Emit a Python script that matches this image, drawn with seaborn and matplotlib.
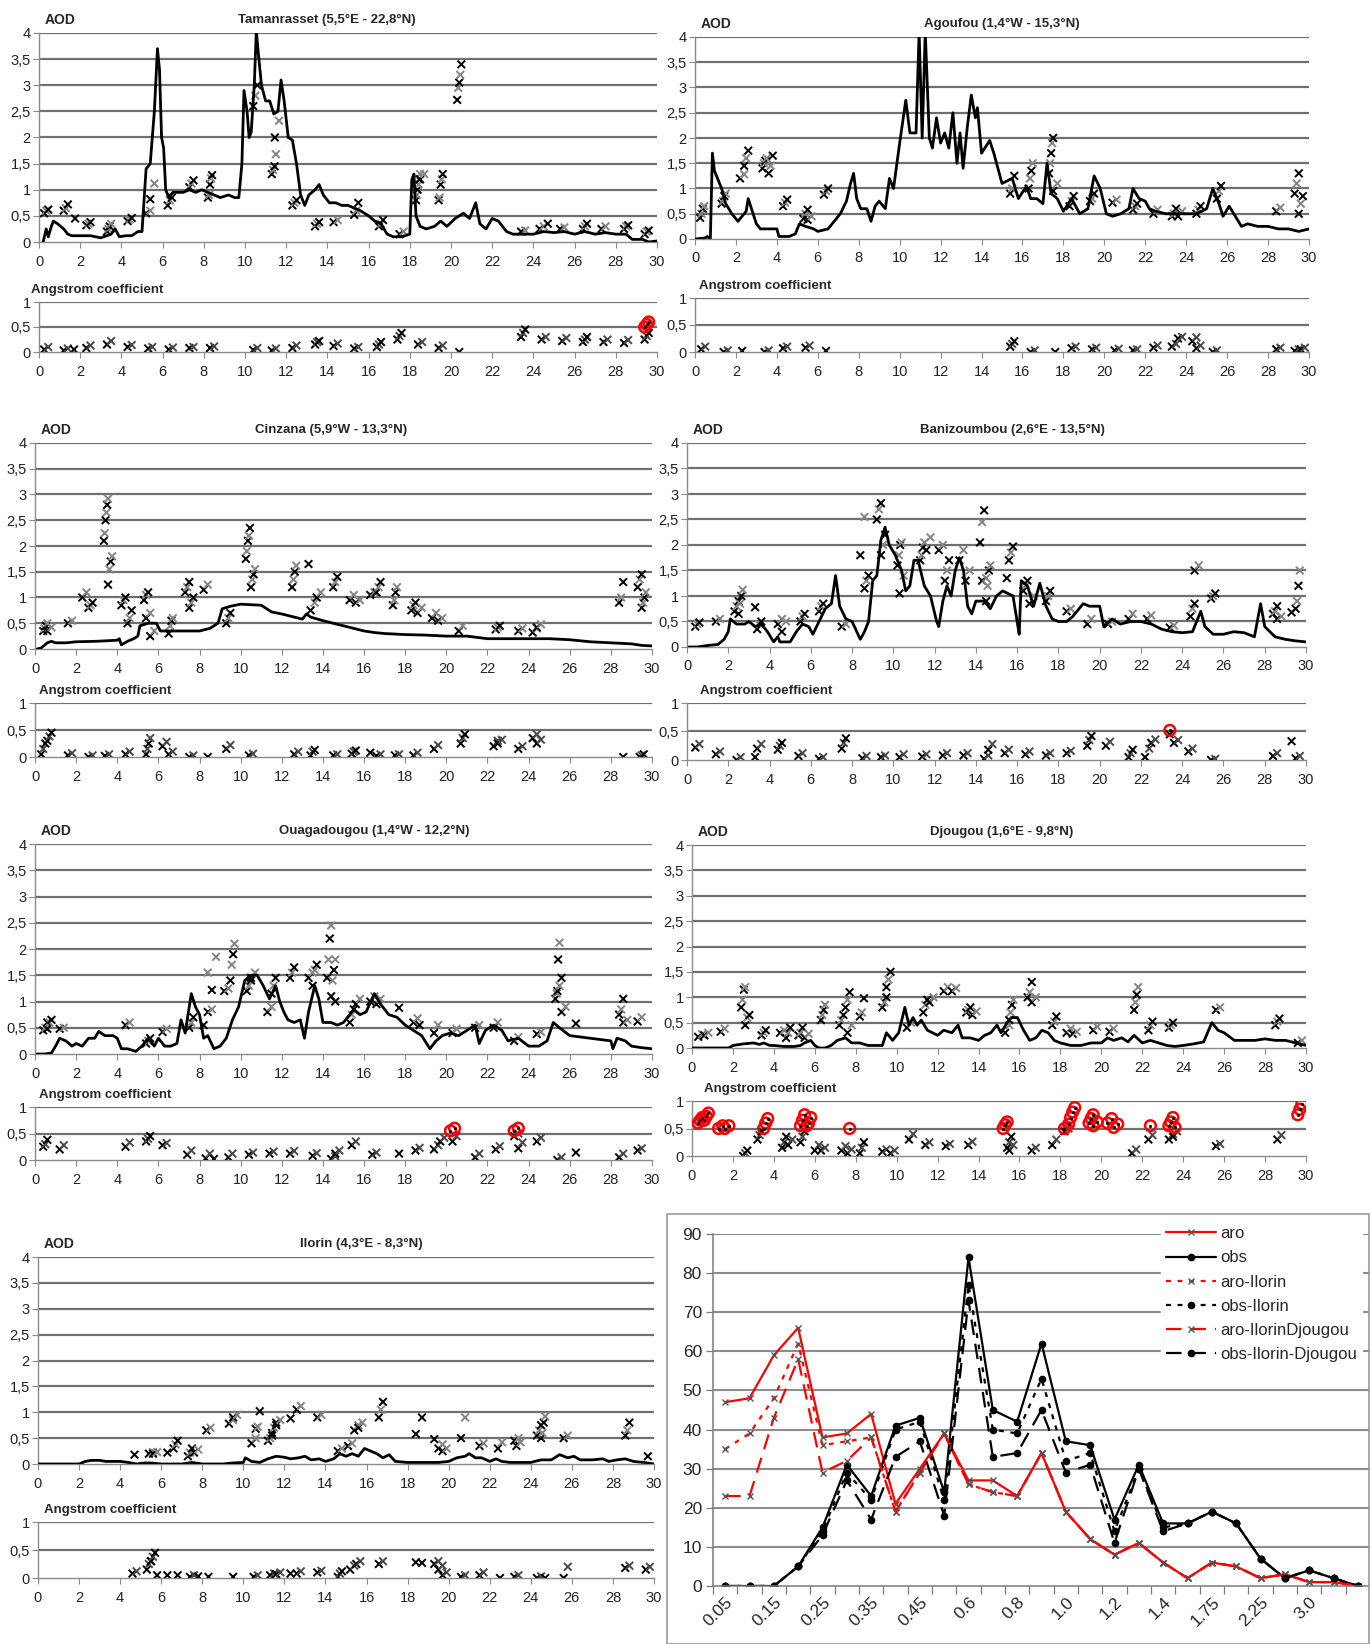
import numpy as np
import matplotlib
matplotlib.use('Agg')
import matplotlib.pyplot as plt
import seaborn as sns
from matplotlib.patches import Rectangle
from matplotlib.ticker import FuncFormatter, MultipleLocator, FixedLocator

sns.set_theme(style='white')
plt.rcParams['font.family'] = ['Liberation Sans Narrow', 'Liberation Sans', 'DejaVu Sans']

# ---------------- station data (day, AOD) ----------------
# model AOD line, observed AOD clusters (day, [values]), Angstrom clusters

tam_line = [(0.2,0.0),(0.35,0.25),(0.45,0.1),(0.6,0.3),(0.7,0.4),(0.9,0.35),(1.2,0.25),(1.4,0.15),(1.6,0.12),(2.0,0.12),
            (2.5,0.12),(3.0,0.08),(3.5,0.15),(3.7,0.25),(3.9,0.1),(4.2,0.12),(4.5,0.12),(4.8,0.2),(5.0,0.2),(5.1,0.8),
            (5.2,1.4),(5.4,1.5),(5.6,2.5),(5.75,3.7),(5.85,3.3),(5.95,2.0),(6.05,1.8),(6.15,1.0),(6.3,0.85),(6.5,0.95),
            (7.0,0.95),(7.3,1.0),(7.6,0.95),(7.9,1.0),(8.2,0.95),(8.5,0.9),(8.8,0.85),(9.2,0.9),(9.5,0.85),(9.7,0.85),
            (9.85,1.5),(9.95,2.9),(10.1,2.5),(10.2,2.0),(10.3,2.1),(10.45,3.0),(10.55,4.05),(10.65,3.6),(10.8,3.0),(11.0,2.7),
            (11.2,2.7),(11.4,2.45),(11.6,2.5),(11.75,3.1),(11.9,2.7),(12.1,2.0),(12.3,1.95),(12.5,1.5),(12.7,0.9),(12.9,0.7),
            (13.1,0.9),(13.4,1.0),(13.6,1.1),(13.8,0.9),(14.1,0.75),(14.4,0.75),(14.7,0.7),(15.0,0.7),(15.3,0.65),(15.6,0.6),
            (16.0,0.5),(16.3,0.4),(16.6,0.35),(16.9,0.15),(17.2,0.1),(17.6,0.1),(18.0,0.15),(18.1,1.2),(18.2,1.3),(18.3,0.5),
            (18.5,0.3),(18.8,0.25),(19.2,0.3),(19.5,0.4),(19.8,0.3),(20.2,0.45),(20.6,0.55),(20.9,0.45),(21.2,0.75),(21.4,0.35),
            (21.7,0.25),(22.0,0.45),(22.3,0.4),(22.7,0.2),(23.0,0.15),(23.5,0.15),(24.0,0.15),(24.5,0.2),(25.0,0.18),(25.5,0.2),
            (26.0,0.15),(26.5,0.2),(27.0,0.15),(27.5,0.18),(28.0,0.15),(28.5,0.15),(28.8,0.05),(29.3,0.05),(29.6,0.0),(30.0,0.02)]
tam_obs = [(0.35,[0.55,0.6,0.62]),(1.3,[0.6,0.65,0.72]),(1.75,[0.45]),(2.4,[0.32,0.35,0.38]),(3.4,[0.2,0.25,0.3,0.35]),
           (4.4,[0.4,0.43,0.46]),(5.3,[0.55,0.6]),(5.5,[0.82,1.12]),(6.35,[0.7,0.8,0.85]),(7.4,[1.05,1.12,1.18]),
           (8.3,[0.85,0.9,1.1,1.22,1.28]),(10.5,[2.6,2.8,3.0]),(11.4,[1.3,1.38,1.45,1.68]),(11.55,[2.0,2.32]),
           (12.4,[0.7,0.75,0.8]),(13.5,[0.3,0.35,0.38]),(14.4,[0.38,0.42]),(15.4,[0.52,0.6,0.75]),(16.6,[0.3,0.35,0.42]),
           (17.6,[0.15,0.2]),(18.4,[0.8,0.9,1.0,1.1,1.2,1.3]),(18.6,[1.2,1.3]),(19.5,[0.8,0.85,1.1,1.2,1.3]),
           (20.4,[2.72,2.95,3.05,3.2,3.4]),(23.5,[0.2,0.22]),(24.4,[0.25,0.3]),(24.7,[0.35]),(25.4,[0.25,0.28]),
           (26.5,[0.25,0.3,0.35]),(27.4,[0.25,0.3]),(28.5,[0.25,0.3,0.32]),(29.5,[0.15,0.2,0.22])]
tam_ang = [(0.35,[0.05,0.1]),(1.3,[0.03,0.07]),(1.7,[0.05]),(2.4,[0.08,0.13]),(3.4,[0.15,0.22]),(4.4,[0.1,0.14]),
           (5.4,[0.07,0.1]),(6.4,[0.05,0.09]),(7.4,[0.08,0.1]),(8.4,[0.08,0.11]),(10.5,[0.04,0.08]),(11.4,[0.03,0.07]),
           (12.4,[0.08,0.13]),(13.5,[0.15,0.2,0.22]),(14.4,[0.12,0.17]),(15.4,[0.07,0.1]),(16.5,[0.1,0.15,0.2]),
           (17.5,[0.25,0.32,0.38]),(18.5,[0.15,0.2]),(19.5,[0.08,0.13]),(20.4,[0.0]),(23.5,[0.3,0.38,0.45]),
           (24.5,[0.25,0.3]),(25.5,[0.22,0.28]),(26.5,[0.2,0.25,0.3]),(27.5,[0.2,0.25]),(28.5,[0.18,0.24]),
           (29.5,[0.25,0.32,0.38])]
tam_red = [(29.5,[0.5,0.55,0.6])]

ago_line = [(0.0,0.0),(0.5,0.02),(0.6,0.05),(0.75,0.0),(0.85,1.7),(0.95,1.35),(1.1,1.2),(1.3,1.0),(1.5,0.7),(1.8,0.5),
            (2.1,0.35),(2.3,0.45),(2.5,0.55),(2.6,0.8),(2.8,0.55),(3.0,0.3),(3.2,0.2),(3.6,0.2),(4.0,0.2),(4.1,0.05),
            (4.6,0.05),(4.9,0.1),(5.1,0.3),(5.4,0.25),(5.8,0.2),(6.0,0.15),(6.5,0.2),(6.8,0.35),(7.1,0.5),(7.4,0.75),
            (7.6,1.1),(7.75,1.3),(7.9,0.8),(8.1,0.6),(8.4,0.6),(8.6,0.35),(8.8,0.65),(9.0,0.75),(9.3,0.6),(9.5,1.2),
            (9.7,1.0),(10.0,1.9),(10.3,2.75),(10.5,2.1),(10.8,2.1),(10.95,4.1),(11.1,2.0),(11.25,4.1),(11.45,2.0),(11.6,1.8),
            (11.8,2.4),(12.0,1.9),(12.2,2.1),(12.4,1.8),(12.6,2.5),(12.8,1.5),(12.95,2.1),(13.1,1.4),(13.3,2.2),(13.5,2.85),
            (13.7,2.4),(13.8,2.6),(14.0,1.7),(14.4,1.95),(14.6,1.7),(15.0,1.1),(15.5,1.2),(15.8,0.8),(16.2,1.05),(16.4,0.8),
            (16.7,0.8),(17.0,0.7),(17.2,1.5),(17.4,0.9),(17.7,0.8),(18.0,0.55),(18.4,0.8),(18.8,0.5),(19.2,0.6),(19.5,1.25),
            (19.8,1.0),(20.1,0.5),(20.4,0.45),(20.8,0.5),(21.2,0.6),(21.4,1.0),(21.7,0.8),(22.0,0.75),(22.2,0.6),(22.5,0.55),
            (23.0,0.5),(23.5,0.5),(24.0,0.5),(24.5,0.5),(25.0,0.6),(25.3,1.0),(25.6,0.7),(25.8,0.45),(26.1,0.65),(26.4,0.45),
            (26.7,0.25),(27.0,0.3),(27.5,0.25),(28.0,0.25),(28.5,0.2),(29.0,0.2),(29.5,0.15),(30.0,0.2)]
ago_obs = [(0.35,[0.42,0.5,0.6,0.65]),(1.4,[0.7,0.75,0.85,0.9]),(2.3,[1.2,1.28]),(2.5,[1.45,1.6,1.75]),
           (3.4,[1.4,1.5,1.55,1.6]),(3.7,[1.3,1.45,1.65]),(4.4,[0.65,0.72,0.78]),(5.4,[0.4,0.5,0.58]),(5.6,[0.38,0.45]),
           (6.4,[0.88,0.95,1.0]),(15.5,[0.9,1.0,1.25]),(16.4,[1.0,1.2,1.35,1.5]),(17.4,[1.3,1.5,1.7,1.9,2.0]),
           (17.6,[0.95,1.1]),(18.4,[0.65,0.75,0.85]),(19.4,[0.75,0.8,0.9]),(20.5,[0.72,0.78]),(21.5,[0.58,0.65,0.7]),
           (22.5,[0.5,0.58]),(23.4,[0.45,0.5,0.6]),(23.7,[0.45,0.55]),(24.6,[0.5,0.58,0.65]),(25.6,[0.8,0.95,1.05]),
           (28.5,[0.55,0.62]),(29.4,[0.9,1.1,1.3]),(29.6,[0.5,0.7,0.85])]
ago_ang = [(0.4,[0.05,0.1]),(1.5,[0.0,0.03]),(2.3,[0.02]),(3.5,[0.0,0.03]),(4.4,[0.07,0.1]),(5.5,[0.08,0.12]),
           (6.4,[0.02]),(15.5,[0.1,0.15,0.2]),(16.5,[0.0,0.03]),(17.6,[0.0]),(18.5,[0.07,0.1]),(19.5,[0.05,0.08]),
           (20.6,[0.03,0.06]),(21.5,[0.03,0.05]),(22.5,[0.08,0.12]),(23.4,[0.1,0.15]),(23.7,[0.25,0.28]),
           (24.4,[0.2,0.27]),(24.6,[0.07,0.12]),(25.4,[0.0,0.03]),(28.5,[0.05,0.08]),(29.4,[0.02,0.05]),(29.7,[0.05,0.08])]
ago_red = []

cin_line = [(0.1,0.0),(0.3,0.02),(0.6,0.12),(0.8,0.15),(1.0,0.12),(1.5,0.12),(2.0,0.14),(3.0,0.15),(4.0,0.17),(4.1,0.2),
            (4.2,0.08),(4.5,0.15),(4.8,0.2),(5.0,0.25),(5.1,0.45),(5.5,0.5),(5.9,0.5),(6.1,0.35),(6.5,0.35),(7.0,0.35),
            (8.0,0.35),(8.5,0.4),(8.9,0.5),(9.1,0.78),(9.5,0.83),(10.0,0.87),(10.5,0.86),(11.0,0.85),(11.5,0.72),(12.0,0.68),
            (12.5,0.63),(13.0,0.58),(13.2,0.68),(13.4,0.62),(14.0,0.55),(14.5,0.5),(15.0,0.45),(15.5,0.4),(16.0,0.35),
            (16.5,0.32),(17.0,0.3),(18.0,0.28),(19.0,0.27),(20.0,0.25),(21.0,0.25),(22.0,0.2),(23.0,0.2),(24.0,0.2),
            (25.0,0.2),(26.0,0.18),(27.0,0.14),(28.0,0.12),(29.0,0.1),(29.5,0.07),(30.0,0.06)]
cin_obs = [(0.5,[0.35,0.4,0.45,0.5]),(0.7,[0.35,0.42]),(1.7,[0.5,0.55]),(2.4,[1.0,1.1]),(2.7,[0.8,0.85,0.9]),
           (3.45,[2.1,2.25,2.5,2.65,2.8,2.92]),(3.65,[1.25,1.55,1.7,1.8]),(4.3,[0.85,0.95,1.0]),(4.6,[0.5,0.6,0.75]),
           (5.4,[0.95,1.05,1.1]),(5.5,[0.6,0.7]),(5.7,[0.25,0.35]),(6.6,[0.3,0.45,0.55,0.6]),(7.4,[1.1,1.2,1.3]),
           (7.6,[0.8,0.9,1.0]),(8.3,[1.15,1.25]),(9.4,[0.5,0.6,0.7]),(10.35,[1.75,1.9,2.1,2.2,2.35]),
           (10.6,[1.2,1.35,1.45,1.55]),(12.6,[1.2,1.35,1.5,1.62]),(13.3,[1.65]),(13.5,[0.75,0.9]),(13.8,[1.0,1.1]),
           (14.6,[1.2,1.3,1.4]),(15.4,[0.95,1.05]),(15.7,[0.9,0.95]),(16.4,[1.05,1.1]),(16.7,[1.1,1.2,1.3]),
           (17.5,[0.85,0.95,1.1,1.2]),(18.4,[0.75,0.85,0.9]),(18.7,[0.7,0.8]),(19.4,[0.6,0.7]),(19.7,[0.55,0.6]),
           (20.7,[0.35,0.45]),(22.5,[0.38,0.42,0.45]),(23.6,[0.35,0.4]),(24.3,[0.32,0.4]),(24.5,[0.42,0.48]),
           (28.5,[0.9,1.0,1.3]),(29.4,[1.2,1.35,1.45]),(29.6,[0.8,0.9,1.0,1.1])]
cin_ang = [(0.4,[0.05,0.15,0.25]),(0.7,[0.3,0.38,0.45]),(1.7,[0.03,0.07]),(2.7,[0.0,0.03]),(3.5,[0.02,0.05]),
           (4.5,[0.05,0.1]),(5.5,[0.05,0.15,0.25,0.35]),(6.3,[0.2,0.28]),(6.6,[0.05,0.1]),(7.6,[0.0,0.03]),(8.4,[0.0]),
           (9.4,[0.15,0.22]),(10.5,[0.03,0.06]),(12.7,[0.05,0.1]),(13.5,[0.03,0.1,0.13]),(14.6,[0.03,0.05]),
           (15.5,[0.06,0.1,0.12]),(16.3,[0.08]),(16.7,[0.02,0.05]),(17.6,[0.03,0.05]),(18.5,[0.03,0.08]),
           (19.5,[0.15,0.22]),(20.8,[0.25,0.35,0.42]),(22.4,[0.2,0.3]),(22.6,[0.25,0.32]),(23.6,[0.15,0.2]),
           (24.3,[0.35,0.42]),(24.5,[0.25,0.32]),(28.6,[0.0]),(29.5,[0.0,0.03,0.05])]
cin_red = []

ban_line = [(0.1,0.0),(0.5,0.0),(1.0,0.03),(1.5,0.05),(1.8,0.15),(2.0,0.3),(2.1,0.55),(2.4,0.45),(2.8,0.45),(3.0,0.5),
            (3.3,0.4),(3.6,0.45),(3.9,0.3),(4.2,0.1),(4.4,0.2),(4.5,0.1),(5.0,0.1),(5.3,0.3),(5.6,0.45),(5.9,0.4),
            (6.1,0.25),(6.4,0.5),(6.7,0.75),(7.0,0.85),(7.2,1.4),(7.4,0.8),(7.7,0.55),(8.0,0.5),(8.4,0.15),(8.6,0.3),
            (8.8,0.5),(9.0,1.3),(9.2,1.4),(9.4,2.1),(9.6,2.35),(9.8,2.0),(10.1,1.8),(10.4,1.5),(10.6,1.1),(10.8,1.2),
            (11.0,1.7),(11.2,1.7),(11.5,1.2),(11.8,1.0),(12.1,0.5),(12.2,0.4),(12.4,0.9),(12.6,1.2),(12.8,1.0),(13.0,1.5),
            (13.2,1.75),(13.4,1.5),(13.6,0.8),(13.8,0.65),(14.0,0.9),(14.4,0.9),(14.7,0.75),(15.0,1.0),(15.3,1.1),(15.8,1.0),
            (16.0,0.5),(16.1,0.25),(16.2,1.3),(16.5,1.2),(16.8,0.8),(17.1,1.25),(17.4,0.8),(17.7,0.55),(18.0,0.5),(18.4,0.5),
            (18.7,0.6),(19.0,0.75),(19.2,0.85),(19.5,0.8),(20.0,0.8),(20.2,0.4),(20.6,0.55),(21.0,0.45),(21.5,0.5),(22.0,0.5),
            (22.5,0.45),(23.0,0.35),(23.5,0.3),(24.0,0.28),(24.5,0.3),(24.9,0.7),(25.1,0.4),(25.5,0.25),(26.0,0.25),
            (26.5,0.3),(27.0,0.28),(27.5,0.2),(27.8,0.85),(28.0,0.4),(28.5,0.2),(29.0,0.15),(29.5,0.12),(30.0,0.1)]
ban_obs = [(0.5,[0.4,0.45,0.48]),(1.5,[0.5,0.55]),(2.4,[0.7,0.8,0.9]),(2.6,[0.65,0.85,1.0,1.12]),(3.3,[0.78]),
           (3.5,[0.35,0.45,0.5]),(4.5,[0.45,0.55]),(4.7,[0.3,0.5]),(5.6,[0.5,0.6,0.65]),(6.5,[0.7,0.8,0.85]),
           (7.6,[0.4,0.45]),(8.5,[1.8,2.55]),(8.7,[1.15,1.3,1.4]),(9.3,[2.5,2.7,2.82]),(9.5,[1.8,2.0,2.2]),
           (10.3,[1.6,1.8,2.0,2.05]),(10.4,[1.05,1.4]),(11.4,[1.7,1.8,1.95,2.05]),(11.7,[1.9,2.15]),(12.3,[1.9,2.0]),
           (12.6,[1.3,1.5,1.7]),(13.3,[1.7,1.9]),(13.6,[1.3,1.5]),(14.3,[2.05,2.45,2.68]),(14.4,[1.3,1.35]),
           (14.6,[0.9,1.2,1.5,1.6]),(15.5,[1.35]),(15.7,[1.7,1.85,1.97]),(16.4,[1.1,1.2,1.3]),(16.7,[0.85,1.0]),
           (17.5,[0.9,1.0,1.1]),(18.5,[0.7,0.75]),(19.5,[0.45,0.55]),(20.5,[0.45,0.5]),(21.5,[0.55,0.65]),
           (22.4,[0.55,0.62]),(23.5,[0.38,0.42]),(24.5,[0.6,0.75,0.85]),(24.7,[1.5,1.6]),(25.5,[0.95,1.0,1.05]),
           (28.5,[0.65,0.7,0.8]),(28.7,[0.55,0.6]),(29.3,[0.68]),(29.6,[0.75,0.9,1.2,1.5])]
ban_ang = [(0.5,[0.22,0.28]),(1.5,[0.1,0.15]),(2.5,[0.0,0.05]),(3.3,[0.05]),(3.5,[0.2,0.28]),(4.5,[0.18,0.25,0.3]),
           (5.5,[0.07,0.12]),(6.5,[0.02,0.05]),(7.6,[0.2,0.3,0.38]),(8.6,[0.03,0.07]),(9.5,[0.05,0.08]),(10.4,[0.05,0.1]),
           (11.5,[0.06,0.1]),(12.5,[0.08,0.12]),(13.5,[0.08,0.12]),(14.5,[0.02,0.08]),(14.7,[0.18,0.28]),
           (15.5,[0.12,0.18]),(16.5,[0.1,0.15]),(17.5,[0.08,0.12]),(18.5,[0.12,0.16]),(19.5,[0.25,0.35,0.42]),
           (20.4,[0.25,0.32]),(21.5,[0.05,0.12,0.18]),(22.3,[0.05,0.2]),(22.6,[0.3,0.36]),(23.4,[0.45]),(23.7,[0.3,0.35]),
           (24.4,[0.15,0.2]),(25.5,[0.0,0.02]),(28.5,[0.07,0.12]),(29.3,[0.33]),(29.6,[0.03,0.07])]
ban_red = [(23.4,[0.52])]

oua_line = [(0.1,0.0),(0.5,0.0),(0.8,0.02),(1.0,0.15),(1.2,0.3),(1.5,0.25),(1.8,0.15),(2.0,0.2),(2.3,0.15),(2.6,0.3),
            (2.9,0.3),(3.1,0.43),(3.4,0.35),(3.8,0.35),(4.0,0.3),(4.2,0.1),(4.5,0.1),(4.9,0.05),(5.2,0.15),(5.5,0.3),
            (5.8,0.15),(6.0,0.3),(6.3,0.15),(6.6,0.15),(6.9,0.2),(7.1,0.65),(7.3,0.4),(7.6,1.15),(7.8,0.9),(8.0,0.75),
            (8.2,0.3),(8.4,0.35),(8.7,0.1),(9.0,0.15),(9.3,0.3),(9.6,0.65),(9.9,0.9),(10.2,1.4),(10.5,1.5),(10.8,1.5),
            (11.1,1.3),(11.4,1.05),(11.7,1.3),(11.9,1.0),(12.1,0.8),(12.3,0.65),(12.6,0.6),(12.9,0.65),(13.1,0.3),(13.3,0.8),
            (13.6,1.3),(13.8,1.05),(14.0,0.6),(14.4,0.6),(14.7,0.55),(15.0,0.6),(15.3,0.75),(15.5,0.85),(15.8,0.75),
            (16.1,0.8),(16.5,1.15),(16.8,0.95),(17.2,0.75),(17.6,0.7),(18.0,0.55),(18.4,0.45),(18.8,0.35),(19.2,0.1),
            (19.5,0.25),(19.8,0.35),(20.2,0.4),(20.6,0.35),(21.0,0.45),(21.4,0.55),(21.6,0.2),(21.9,0.45),(22.3,0.55),
            (22.7,0.45),(23.0,0.25),(23.5,0.3),(24.0,0.15),(24.5,0.15),(24.9,0.25),(25.2,0.6),(25.5,0.5),(26.0,0.35),
            (27.0,0.3),(28.0,0.25),(28.1,0.1),(28.3,0.3),(28.7,0.25),(29.0,0.15),(29.5,0.12),(30.0,0.1)]
oua_obs = [(0.5,[0.45,0.5,0.6]),(0.7,[0.48,0.6,0.65]),(1.3,[0.48,0.5]),(4.5,[0.55,0.6]),(5.5,[0.2,0.25,0.3]),
           (6.3,[0.42,0.48]),(7.6,[0.5,0.6,0.7]),(8.3,[0.55,1.55]),(8.5,[0.8,0.85]),(8.7,[1.22,1.85]),(9.3,[1.2,1.25]),
           (9.6,[1.4,1.7,1.9,2.1]),(10.4,[1.2,1.3,1.4]),(10.6,[1.45,1.55]),(11.4,[0.8,0.9]),(11.6,[1.15,1.3,1.45]),
           (12.5,[1.45,1.55,1.65]),(13.4,[1.45,1.55]),(13.6,[1.3,1.6,1.7]),(14.3,[1.45,1.8,2.2,2.45]),
           (14.5,[1.1,1.4,1.6,1.8]),(14.6,[1.0]),(15.4,[0.6,0.75,0.85]),(15.7,[0.95,1.05]),(16.4,[1.0,1.1]),
           (16.7,[0.95,1.05]),(17.7,[0.88]),(18.5,[0.6,0.68]),(18.7,[0.55]),(19.5,[0.4,0.55]),(20.4,[0.4,0.48]),
           (21.5,[0.5,0.55]),(22.4,[0.5,0.6]),(23.4,[0.25,0.32]),(24.5,[0.38,0.42]),(25.4,[1.05,1.15,1.8,2.12]),
           (25.5,[1.2,1.3,1.45]),(25.7,[0.8,0.9]),(26.3,[0.58]),(28.5,[0.75,0.85,1.05]),(28.7,[0.6,0.65]),(29.4,[0.62,0.7])]
oua_ang = [(0.5,[0.25,0.3,0.38]),(1.3,[0.2,0.28]),(4.5,[0.25,0.33]),(5.5,[0.35,0.4,0.45]),(6.3,[0.28,0.32]),
           (7.5,[0.1,0.18]),(8.4,[0.03,0.12]),(8.7,[0.02]),(9.5,[0.05,0.12]),(10.5,[0.1,0.14]),(11.5,[0.12,0.16]),
           (12.5,[0.12,0.17]),(13.6,[0.08,0.13]),(14.5,[0.02,0.07]),(14.7,[0.12,0.18]),(15.5,[0.28,0.35]),
           (16.5,[0.1,0.14]),(17.7,[0.12]),(18.6,[0.18,0.23]),(19.5,[0.2,0.28]),(19.8,[0.35,0.42]),(20.4,[0.35,0.45]),
           (21.5,[0.05,0.12]),(22.5,[0.2,0.26]),(23.4,[0.45,0.5]),(23.6,[0.22,0.33]),(24.5,[0.35,0.42]),
           (25.5,[0.0,0.05]),(26.3,[0.14]),(28.5,[0.05,0.12]),(29.4,[0.18,0.22])]
oua_red = [(20.3,[0.55,0.6]),(23.4,[0.55,0.6])]

djo_line = [(0.0,0.0),(1.0,0.0),(1.8,0.0),(2.0,0.05),(2.5,0.08),(3.0,0.1),(3.3,0.07),(3.5,0.1),(3.8,0.05),(4.0,0.05),
            (4.5,0.03),(5.0,0.03),(5.3,0.05),(5.5,0.1),(5.8,0.15),(6.0,0.05),(6.2,0.0),(6.5,0.0),(6.8,0.05),(7.1,0.15),
            (7.5,0.2),(7.8,0.1),(8.2,0.1),(8.6,0.05),(9.0,0.05),(9.3,0.05),(9.5,0.3),(9.8,0.15),(10.1,0.3),(10.4,0.8),
            (10.6,0.45),(10.8,0.6),(11.0,0.45),(11.2,0.55),(11.5,0.35),(12.0,0.25),(12.3,0.35),(12.7,0.3),(13.0,0.45),
            (13.2,0.2),(13.6,0.2),(14.0,0.15),(14.3,0.25),(14.6,0.3),(14.9,0.45),(15.1,0.3),(15.4,0.5),(15.6,0.6),
            (15.9,0.6),(16.2,0.35),(16.5,0.15),(16.8,0.2),(17.1,0.35),(17.4,0.3),(17.7,0.15),(18.0,0.1),(18.5,0.05),
            (19.0,0.05),(19.5,0.1),(20.0,0.1),(20.3,0.2),(20.6,0.15),(21.0,0.2),(21.3,0.12),(21.6,0.25),(22.0,0.1),
            (22.4,0.15),(22.8,0.1),(23.2,0.05),(23.6,0.03),(24.0,0.05),(24.5,0.08),(25.0,0.12),(25.4,0.5),(25.7,0.35),
            (26.0,0.3),(26.5,0.15),(27.0,0.15),(27.5,0.15),(28.0,0.18),(28.5,0.15),(29.0,0.15),(29.5,0.1),(30.0,0.05)]
djo_obs = [(0.4,[0.22,0.27]),(0.7,[0.25,0.3]),(1.5,[0.32,0.38]),(2.5,[0.8,0.95,1.15,1.2]),(2.7,[0.45,0.6,0.65]),
           (3.5,[0.25,0.3,0.35]),(4.4,[0.3,0.35]),(4.7,[0.2,0.3,0.4]),(5.3,[0.25,0.3,0.4]),(5.6,[0.2,0.28]),
           (6.4,[0.55,0.65,0.75,0.85]),(7.3,[0.45,0.55,0.65]),(7.6,[0.8,0.95,1.1]),(7.7,[0.3,0.45]),(8.3,[0.62,0.7,0.98]),
           (9.4,[0.8,0.9,1.0]),(9.6,[1.2,1.35,1.5]),(10.6,[0.4,0.5]),(11.4,[0.7,0.85,0.95]),(11.7,[0.9,1.0]),
           (12.4,[1.12,1.2]),(12.8,[1.12,1.18]),(13.5,[0.7,0.75,0.8]),(13.8,[0.65,0.72]),(15.4,[0.3,0.45]),
           (15.6,[0.55,0.7,0.85,0.95]),(16.5,[1.0,1.1,1.3]),(16.7,[0.9,1.0]),(17.7,[0.45,0.52,0.62]),(18.4,[0.3,0.38]),
           (18.7,[0.28,0.32]),(19.7,[0.35,0.42]),(20.5,[0.32,0.38]),(21.7,[0.75,0.9,1.05,1.2]),(22.4,[0.35,0.45,0.52]),
           (23.4,[0.4,0.45,0.5]),(25.7,[0.75,0.8]),(28.6,[0.45,0.52,0.58]),(29.7,[0.1,0.15])]
djo_ang = [(2.6,[0.0,0.05,0.1]),(3.3,[0.3,0.38,0.45]),(4.5,[0.15,0.25,0.35]),(4.8,[0.2,0.3]),(5.4,[0.25,0.35,0.45]),
           (6.1,[0.1,0.2]),(6.4,[0.1,0.15]),(7.4,[0.1,0.18]),(7.7,[0.05,0.12]),(8.3,[0.05,0.15,0.25]),(9.4,[0.08,0.12]),
           (9.8,[0.05,0.1]),(10.7,[0.3,0.4]),(11.5,[0.2,0.25]),(12.5,[0.18,0.22]),(13.6,[0.2,0.26]),
           (15.5,[0.15,0.25,0.35]),(15.6,[0.1,0.2]),(16.7,[0.1,0.15]),(17.7,[0.2,0.3]),(18.3,[0.45,0.5]),
           (21.6,[0.05,0.12]),(22.4,[0.3,0.38]),(23.4,[0.3,0.4]),(23.6,[0.35,0.45]),(25.7,[0.18,0.22]),(28.7,[0.3,0.38])]
djo_red = [(0.4,[0.6,0.65,0.7]),(0.7,[0.65,0.72,0.78]),(1.4,[0.5,0.55]),(1.7,[0.5,0.55]),(3.6,[0.5,0.6,0.68]),
           (5.4,[0.55,0.65,0.75]),(5.7,[0.55,0.6,0.7]),(7.7,[0.5]),(15.3,[0.5,0.57,0.62]),(18.3,[0.5,0.58]),
           (18.6,[0.7,0.8,0.88]),(19.5,[0.6,0.68,0.75]),(19.7,[0.55,0.62]),(20.4,[0.6,0.68]),(20.7,[0.52,0.58]),
           (22.4,[0.55]),(23.4,[0.55,0.62,0.7]),(23.6,[0.52]),(29.7,[0.75,0.85,0.95])]

ilo_line = [(0.0,0.0),(1.0,0.0),(2.0,0.0),(2.3,0.05),(2.6,0.07),(3.0,0.07),(3.3,0.05),(4.0,0.05),(4.4,0.03),(4.8,0.0),
            (5.2,0.02),(5.5,0.02),(6.0,0.0),(6.5,0.0),(7.0,0.0),(7.5,0.03),(8.0,0.0),(9.0,0.0),(9.5,0.02),(10.0,0.03),
            (10.1,0.12),(10.4,0.05),(10.8,0.03),(11.2,0.1),(11.6,0.15),(12.0,0.13),(12.3,0.1),(12.7,0.12),(13.0,0.15),
            (13.3,0.08),(13.7,0.1),(14.0,0.05),(14.4,0.1),(14.7,0.2),(15.0,0.15),(15.3,0.2),(15.6,0.15),(15.9,0.3),
            (16.2,0.25),(16.5,0.2),(16.8,0.12),(17.1,0.18),(17.4,0.05),(18.0,0.03),(19.0,0.03),(19.5,0.03),(20.0,0.05),
            (20.4,0.12),(20.8,0.15),(21.0,0.2),(21.3,0.12),(21.6,0.12),(22.0,0.05),(22.3,0.1),(22.6,0.05),(23.0,0.03),
            (24.0,0.03),(24.5,0.08),(25.0,0.08),(25.4,0.18),(25.8,0.12),(26.1,0.15),(26.4,0.08),(27.0,0.08),(27.5,0.1),
            (27.8,0.05),(28.2,0.08),(28.6,0.1),(29.0,0.05),(29.5,0.03),(30.0,0.0)]
ilo_obs = [(4.7,[0.18]),(5.5,[0.2,0.23]),(5.7,[0.2,0.23]),(6.3,[0.22]),(6.7,[0.3,0.38,0.45]),(7.4,[0.15,0.22,0.3]),
           (7.7,[0.22,0.28]),(8.3,[0.65,0.7]),(9.4,[0.78,0.85]),(9.6,[0.9,0.95]),(10.5,[0.4,0.5]),(10.7,[0.68,0.72,1.02]),
           (11.3,[0.45,0.5,0.55]),(11.5,[0.6,0.7,0.75]),(11.7,[0.8,0.85]),(12.3,[0.88]),(12.7,[1.05,1.12]),
           (13.7,[0.9,0.95]),(14.7,[0.25,0.3]),(15.2,[0.35,0.4]),(15.5,[0.65,0.75]),(15.7,[0.7,0.8]),
           (16.7,[0.9,1.05,1.2]),(18.4,[0.58]),(18.7,[0.9]),(19.3,[0.48]),(19.6,[0.3,0.38]),(19.8,[0.25,0.3]),
           (20.7,[0.5,0.9]),(21.6,[0.35,0.4]),(22.5,[0.3,0.42]),(23.3,[0.45,0.5]),(23.4,[0.35,0.42]),
           (24.4,[0.55,0.65,0.75]),(24.6,[0.5,0.6,0.8,0.92]),(25.7,[0.5,0.55]),(28.7,[0.55,0.65,0.8]),(29.7,[0.15])]
ilo_ang = [(4.7,[0.08,0.12]),(5.4,[0.15,0.25,0.3]),(5.6,[0.3,0.38,0.45]),(5.8,[0.05]),(6.3,[0.05]),(6.8,[0.05]),
           (7.5,[0.02,0.05]),(7.8,[0.03]),(8.3,[0.02]),(9.5,[0.02]),(10.6,[0.02,0.05]),(11.4,[0.05,0.08]),
           (11.7,[0.07,0.1]),(12.3,[0.08]),(12.7,[0.08,0.12]),(13.7,[0.1,0.13]),(14.7,[0.02,0.08,0.12]),
           (15.3,[0.15,0.22]),(15.6,[0.25,0.3]),(16.7,[0.25,0.3]),(18.4,[0.28]),(18.7,[0.27]),(19.4,[0.25,0.3]),
           (19.6,[0.15,0.22]),(19.8,[0.05,0.1]),(20.7,[0.02,0.05]),(21.6,[0.05,0.1]),(22.5,[0.0]),(23.3,[0.02,0.05]),
           (24.4,[0.0,0.03]),(24.7,[0.0]),(25.7,[0.0,0.2]),(28.7,[0.18,0.22]),(29.7,[0.15,0.2])]
ilo_red = []

# ---------------- histogram data ----------------
bins = ['0.05','0.1','0.15','0.2','0.25','0.3','0.35','0.4','0.45','0.5','0.6','0.7','0.8','0.9',
        '1.0','1.1','1.2','1.3','1.4','1.5','1.75','2.0','2.25','2.5','3.0','3.5','4.0']
aro = [47,48,59,66,38,39,44,21,30,39,27,27,23,34,19,12,8,11,6,2,6,5,2,3,1,1,0]
obs = [0,0,0,5,15,31,23,41,43,24,84,45,42,62,37,36,17,31,16,16,19,16,7,2,4,2,0]
aro_ilorin = [35,39,48,62,36,37,38,19,29,39,26,24,23,34,19,12,8,11,6,2,6,5,2,3,1,1,0]
obs_ilorin = [0,0,0,5,14,29,22,40,42,22,77,40,39,53,32,34,14,30,15,16,19,16,7,2,4,2,0]
aro_ilorin_djougou = [23,23,43,58,29,32,38,19,29,39,26,24,23,34,19,12,8,11,6,2,6,5,2,3,1,1,0]
obs_ilorin_djougou = [0,0,0,5,13,27,17,33,37,18,73,33,34,45,29,31,11,30,14,16,19,16,7,2,4,2,0]

# ---------------- layout (figure pixels: left, top, right, bottom) ----------------
W, H = 1370, 1644
stations = [
    dict(title='Tamanrasset (5,5°E - 22,8°N)', tx=0.466, aod=(39, 33, 657, 242), ang=(39, 302, 657, 352), aoff=-8,
         line=tam_line, obs=tam_obs, angv=tam_ang, red=tam_red),
    dict(title='Agoufou (1,4°W - 15,3°N)', tx=0.50, aod=(695, 37, 1309, 239), ang=(695, 298, 1309, 352), aoff=4,
         line=ago_line, obs=ago_obs, angv=ago_ang, red=ago_red),
    dict(title='Cinzana (5,9°W - 13,3°N)', tx=0.48, aod=(35, 443, 652, 649), ang=(35, 703, 652, 757), aoff=4,
         line=cin_line, obs=cin_obs, angv=cin_ang, red=cin_red),
    dict(title='Banizoumbou (2,6°E - 13,5°N)', tx=0.525, aod=(687, 443, 1306, 647), ang=(687, 703, 1306, 760), aoff=13,
         line=ban_line, obs=ban_obs, angv=ban_ang, red=ban_red),
    dict(title='Ouagadougou (1,4°W - 12,2°N)', tx=0.55, aod=(35, 844, 652, 1054), ang=(35, 1107, 652, 1160), aoff=4,
         line=oua_line, obs=oua_obs, angv=oua_ang, red=oua_red),
    dict(title='Djougou (1,6°E - 9,8°N)', tx=0.505, aod=(692, 845, 1306, 1048), ang=(692, 1101, 1306, 1156), aoff=12,
         line=djo_line, obs=djo_obs, angv=djo_ang, red=djo_red),
    dict(title='Ilorin (4,3°E - 8,3°N)', tx=0.525, aod=(38, 1257, 654, 1464), ang=(38, 1522, 654, 1578), aoff=6,
         line=ilo_line, obs=ilo_obs, angv=ilo_ang, red=ilo_red),
]
hist_box = (713, 1234, 1370, 1586)

fig = plt.figure(figsize=(W / 100, H / 100), dpi=100)
fig.patch.set_facecolor('white')


def add_ax(box):
    l, t, r, b = box
    return fig.add_axes([l / W, 1 - b / H, (r - l) / W, (b - t) / H])


def expand(clusters):
    xs, ys, hue = [], [], []
    for d, vals in clusters:
        n = len(vals)
        offs = np.linspace(-0.1, 0.1, n) if n > 1 else [0.0]
        for i, (o, v) in enumerate(zip(offs, vals)):
            xs.append(d + o)
            ys.append(v)
            hue.append('a' if i % 2 == 0 else 'b')
    return xs, ys, hue


comma = FuncFormatter(lambda v, p: f'{v:g}'.replace('.', ','))
grid_col = '#6f6f6f'
spine_col = '#8a8a8a'


def style_panel(ax, ymax, ystep):
    ax.set_xlim(0, 30)
    ax.set_ylim(0, ymax)
    ax.xaxis.set_major_locator(MultipleLocator(2))
    ax.yaxis.set_major_locator(MultipleLocator(ystep))
    ax.yaxis.set_major_formatter(comma)
    ax.grid(False)
    for yv in np.arange(ystep, ymax + 0.01, ystep):
        ax.axhline(yv, color=grid_col, lw=1.6, zorder=0)
    for s in ['top', 'right']:
        ax.spines[s].set_visible(False)
    for s in ['left', 'bottom']:
        ax.spines[s].set_color(spine_col)
        ax.spines[s].set_linewidth(1.0)
    ax.tick_params(axis='both', which='major', length=4, width=0.8, color=spine_col,
                   labelsize=10.5, labelcolor='#222222', pad=2, bottom=True, left=True)
    ax.tick_params(axis='x', pad=5)
    ax.set_xlabel('')
    ax.set_ylabel('')
    ax.patch.set_alpha(0)


for st in stations:
    ax = add_ax(st['aod'])
    ox, oy, oh = expand(st['obs'])
    sns.scatterplot(x=ox, y=oy, hue=oh, palette={'a': 'black', 'b': '#858585'}, marker='x', s=30,
                    linewidth=1.4, legend=False, ax=ax, zorder=3)
    lx = [p[0] for p in st['line']]
    ly = [p[1] for p in st['line']]
    sns.lineplot(x=lx, y=ly, ax=ax, color='black', lw=2.0, estimator=None, sort=False, zorder=4)
    style_panel(ax, 4, 0.5)
    l, t, r, b = st['aod']
    fig.text((l + 6) / W, 1 - (t - 13) / H, 'AOD', fontsize=10, fontweight='bold', va='center', ha='left')
    fig.text((l + st['tx'] * (r - l)) / W, 1 - (t - 13) / H, st['title'], fontsize=9.5, fontweight='bold',
             va='center', ha='center')

    ax2 = add_ax(st['ang'])
    ax_, ay_, ah_ = expand(st['angv'])
    sns.scatterplot(x=ax_, y=ay_, hue=ah_, palette={'a': 'black', 'b': '#4a4a4a'}, marker='x', s=30,
                    linewidth=1.4, legend=False, ax=ax2, zorder=3)
    if st['red']:
        rx, ry, _ = expand(st['red'])
        sns.scatterplot(x=rx, y=ry, marker='o', s=60, facecolor='none', edgecolor='red', linewidth=1.8,
                        ax=ax2, zorder=4, legend=False)
        sns.scatterplot(x=rx, y=ry, marker='o', s=5, color='black', linewidth=0, ax=ax2, zorder=5, legend=False)
    style_panel(ax2, 1, 0.5)
    l, t, r, b = st['ang']
    fig.text((l + st['aoff']) / W, 1 - (t - 12) / H, 'Angstrom coefficient', fontsize=9.5, fontweight='bold',
             va='center', ha='left')

# ---------------- histogram panel ----------------
fig.add_artist(Rectangle((667 / W, 0), (W - 667) / W - 0.0005, 1 - 1214 / H, transform=fig.transFigure,
                         fill=False, edgecolor='#9a9a9a', lw=1.2))

axh = add_ax(hist_box)
hx = np.arange(len(bins))
series = [
    (aro, 'aro', 'red', '-', 'x'),
    (obs, 'obs', 'black', '-', 'o'),
    (aro_ilorin, 'aro-Ilorin', 'red', (0, (2.2, 3.0)), 'x'),
    (obs_ilorin, 'obs-Ilorin', 'black', (0, (2.2, 3.0)), 'o'),
    (aro_ilorin_djougou, 'aro-IlorinDjougou', 'red', (0, (7, 4)), 'x'),
    (obs_ilorin_djougou, 'obs-Ilorin-Djougou', 'black', (0, (7, 4)), 'o'),
]
for vals, lab, col, ls, mk in series:
    sns.lineplot(x=hx, y=vals, ax=axh, color=col, linestyle=ls, lw=1.6, marker=mk,
                 markersize=4 if mk == 'x' else 4.5, markeredgecolor='#555555' if mk == 'x' else col,
                 markeredgewidth=1.0, markerfacecolor=col, label=lab, estimator=None, sort=False)

axh.set_xlim(-0.5, len(bins) - 0.5)
axh.set_ylim(0, 90)
axh.grid(False)
for yv in range(10, 91, 10):
    axh.axhline(yv, color='#8c8c8c', lw=1.5, zorder=0)
axh.yaxis.set_major_locator(MultipleLocator(10))
axh.xaxis.set_major_locator(FixedLocator(hx[:25:2]))
axh.set_xticklabels(bins[:25:2])
axh.xaxis.set_minor_locator(FixedLocator(np.arange(-0.5, len(bins), 1.0)))
for s in ['top', 'right']:
    axh.spines[s].set_visible(False)
for s in ['left', 'bottom']:
    axh.spines[s].set_color('#7a7a7a')
    axh.spines[s].set_linewidth(1.1)
axh.tick_params(axis='y', length=5, width=0.9, color='#7a7a7a', labelsize=12.5, pad=3, left=True)
axh.tick_params(axis='x', which='major', length=0, labelsize=12.5, pad=6, bottom=True)
axh.tick_params(axis='x', which='minor', length=6, width=0.9, color='#7a7a7a', bottom=True)
for lab in axh.get_xticklabels() + axh.get_yticklabels():
    lab.set_fontfamily(['Liberation Sans', 'DejaVu Sans'])
for lab in axh.get_xticklabels():
    lab.set_rotation(45)
    lab.set_ha('right')
    lab.set_rotation_mode('anchor')
axh.set_xlabel('')
axh.set_ylabel('')
axh.patch.set_alpha(0)

leg = axh.legend(loc='upper right', bbox_to_anchor=(1.0, 1.06), frameon=True, fancybox=False,
                 facecolor='white', edgecolor='white', framealpha=1, handlelength=3.0, handletextpad=0.2,
                 labelspacing=0.55, borderpad=0.3, prop={'family': ['Liberation Sans', 'DejaVu Sans'], 'size': 12})
leg.set_zorder(10)

fig.savefig('out.png', dpi=100, facecolor='white')
